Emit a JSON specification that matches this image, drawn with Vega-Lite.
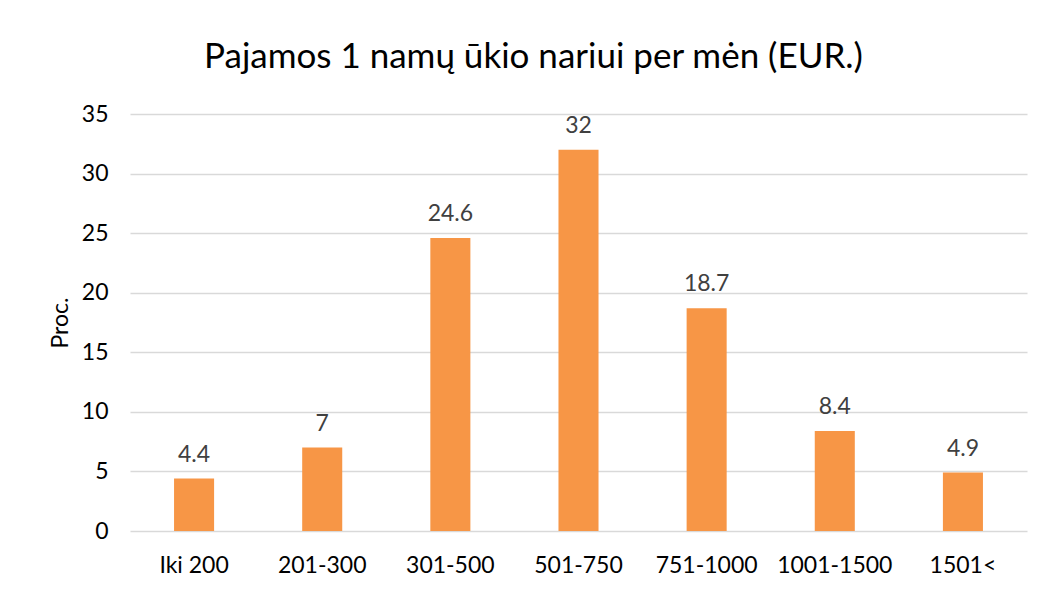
{
  "$schema": "https://vega.github.io/schema/vega-lite/v6.json",
  "autosize": "none",
  "width": 897,
  "height": 417,
  "padding": {"left": 130, "top": 114, "right": 16, "bottom": 59},
  "background": "white",
  "title": {
    "text": "Pajamos 1 namų ūkio nariui per mėn (EUR.)",
    "font": "Lato",
    "fontSize": 35,
    "fontWeight": "normal",
    "color": "#000000",
    "anchor": "middle",
    "dx": -45,
    "baseline": "alphabetic",
    "offset": 0
  },
  "data": {
    "values": [
      {"kategorija": "Iki 200", "proc": 4.4},
      {"kategorija": "201-300", "proc": 7},
      {"kategorija": "301-500", "proc": 24.6},
      {"kategorija": "501-750", "proc": 32},
      {"kategorija": "751-1000", "proc": 18.7},
      {"kategorija": "1001-1500", "proc": 8.4},
      {"kategorija": "1501<", "proc": 4.9}
    ]
  },
  "encoding": {
    "x": {
      "field": "kategorija",
      "type": "nominal",
      "sort": null,
      "scale": {"paddingInner": 0.6875, "paddingOuter": 0.34375},
      "axis": {
        "title": null,
        "labelAngle": 0,
        "labelFont": "Lato",
        "labelFontSize": 23,
        "labelColor": "#000000",
        "labelPadding": 23,
        "ticks": false,
        "domain": false
      }
    },
    "y": {
      "field": "proc",
      "type": "quantitative",
      "scale": {"domain": [0, 35], "nice": false},
      "axis": {
        "title": "Proc.",
        "titleFont": "Lato",
        "titleFontSize": 23,
        "titleFontWeight": "normal",
        "titleColor": "#000000",
        "titlePadding": 9,
        "values": [0, 5, 10, 15, 20, 25, 30, 35],
        "labelFont": "Lato",
        "labelFontSize": 23,
        "labelColor": "#000000",
        "labelPadding": 22,
        "ticks": false,
        "domain": false,
        "gridColor": "#d9d9d9",
        "gridWidth": 1.5
      }
    }
  },
  "layer": [
    {"mark": {"type": "bar", "color": "#F79646"}},
    {
      "mark": {
        "type": "text",
        "baseline": "alphabetic",
        "dy": -17,
        "font": "Lato",
        "fontSize": 23,
        "color": "#404040"
      },
      "encoding": {"text": {"field": "proc", "type": "quantitative"}}
    }
  ],
  "config": {"view": {"stroke": null}}
}
